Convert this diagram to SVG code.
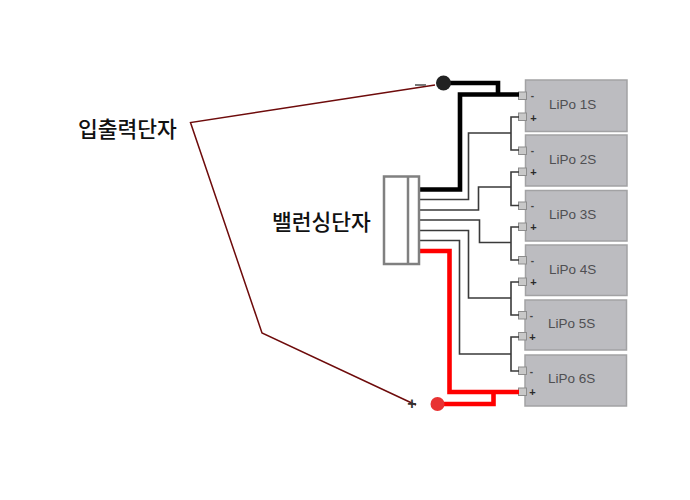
<svg xmlns="http://www.w3.org/2000/svg" width="690" height="500" viewBox="0 0 690 500">
<style>
.bat{fill:#bcbcc0;stroke:#a2a2a4;stroke-width:1.5}
.term{fill:#c8c8c8;stroke:#8c8c8c;stroke-width:1}
.lbl{font:13.500px "Liberation Sans",Arial,sans-serif;fill:#4f4f52}
.minus{font:bold 10px "Liberation Sans",Arial,sans-serif;fill:#444;text-anchor:middle}
.plus{font:bold 11px "Liberation Sans",Arial,sans-serif;fill:#2a2a2a;text-anchor:middle}
.ko{font:500 21.500px "Noto Sans CJK KR",sans-serif;fill:#111}
.w{fill:none;stroke:#3a3a3a;stroke-width:1.600}
.k{fill:none;stroke:#000;stroke-width:4.600}
.r{fill:none;stroke:#f00;stroke-width:4.600}
.d{fill:none;stroke:#6e0b0b;stroke-width:1.500}
</style>
<rect width="690" height="500" fill="#fff"/>
<g id="battery1"><rect class="bat" x="525.500" y="80" width="101.500" height="51.500"/><rect class="term" x="518.500" y="92" width="8" height="7.500"/><rect class="term" x="518.500" y="113" width="8" height="7.500"/><text class="minus" x="532.500" y="99">-</text><text class="plus" x="533.500" y="121.500">+</text><text class="lbl" x="549" y="109">LiPo 1S</text></g>
<g id="battery2"><rect class="bat" x="525.500" y="135" width="101.500" height="51"/><rect class="term" x="518.500" y="147" width="8" height="7.500"/><rect class="term" x="518.500" y="168" width="8" height="7.500"/><text class="minus" x="532.500" y="154">-</text><text class="plus" x="533.500" y="176">+</text><text class="lbl" x="549" y="164">LiPo 2S</text></g>
<g id="battery3"><rect class="bat" x="525.500" y="190.500" width="101.500" height="50.500"/><rect class="term" x="518.500" y="202" width="8" height="7.500"/><rect class="term" x="518.500" y="223" width="8" height="7.500"/><text class="minus" x="532.500" y="209">-</text><text class="plus" x="533.500" y="231">+</text><text class="lbl" x="549" y="218.500">LiPo 3S</text></g>
<g id="battery4"><rect class="bat" x="525.500" y="245" width="101.500" height="50.500"/><rect class="term" x="518.500" y="256.500" width="8" height="7.500"/><rect class="term" x="518.500" y="278" width="8" height="7.500"/><text class="minus" x="532.500" y="264">-</text><text class="plus" x="533.500" y="286">+</text><text class="lbl" x="549" y="273.500">LiPo 4S</text></g>
<g id="battery5"><rect class="bat" x="525" y="300" width="101.500" height="50"/><rect class="term" x="518.500" y="311.500" width="8" height="7.500"/><rect class="term" x="518.500" y="332.500" width="8" height="7.500"/><text class="minus" x="531.500" y="319">-</text><text class="plus" x="532.500" y="340.500">+</text><text class="lbl" x="548" y="328">LiPo 5S</text></g>
<g id="battery6"><rect class="bat" x="525" y="355" width="101.500" height="51"/><rect class="term" x="518.500" y="367" width="8" height="7.500"/><rect class="term" x="518.500" y="388" width="8" height="7.500"/><text class="minus" x="531.500" y="374.500">-</text><text class="plus" x="532.500" y="395.500">+</text><text class="lbl" x="548" y="383">LiPo 6S</text></g>
<g id="connectors">
<path class="w" d="M519 117H511V150H519M511 133H468.500V199.500H419"/>
<path class="w" d="M519 172H511V205.500H519M511 187H478.500V210H419"/>
<path class="w" d="M519 227H511V260H519M511 242.500H479.500V220H419"/>
<path class="w" d="M519 282H511V315H519M511 298H468.500V230.500H419"/>
<path class="w" d="M519 337H511V371H519M511 354H459.500V240.500H419"/>
<path class="k" d="M418 189.500H460V94.500H519M443 83H498V94.500"/>
<path class="r" d="M418 251H449.500V392H519M437 404H493.500V392"/>
<path class="d" d="M435 85L190.500 122.500L262 333L416 405"/>
</g>
<g id="balance-connector"><rect x="384" y="176.500" width="35" height="87.500" fill="#fff" stroke="#808080" stroke-width="2.500"/><line x1="408" y1="176.500" x2="408" y2="264" stroke="#808080" stroke-width="2.500"/></g>
<g id="output-negative"><circle cx="443.500" cy="83" r="7.500" fill="#222"/><rect x="415" y="84" width="11" height="2" fill="#777"/></g>
<g id="output-positive"><circle cx="437.500" cy="404" r="7" fill="#e83232"/><text x="412" y="409" text-anchor="middle" style="font:bold 16px 'Liberation Sans',sans-serif;fill:#333">+</text></g>
<g id="label-output"><text class="ko" x="78" y="137">입출력단자</text></g>
<g id="label-balance"><text class="ko" x="272" y="230">밸런싱단자</text></g>
</svg>
